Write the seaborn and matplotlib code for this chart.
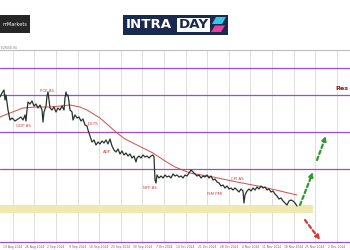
import matplotlib
matplotlib.use("Agg")
import matplotlib.pyplot as plt
import matplotlib.patches as mpatches
import seaborn as sns
import pandas as pd

# ---------------- data ----------------
bars = [0, 2, 4, 5, 6, 8, 10, 12, 15, 18, 21, 23, 25, 26, 27, 28, 30, 32, 34, 36, 38, 40,
        42, 43, 44, 46, 47, 48, 49, 50, 52, 54, 56, 58, 60, 62, 64, 65, 66, 67, 68, 69, 70,
        72, 73, 75, 77, 79, 81, 83, 85, 87, 88, 90, 92, 94, 96, 98, 100, 102, 104, 106, 108,
        110, 112, 114, 116, 118, 120, 122, 124, 126, 128, 130, 132, 134, 136, 137, 139, 141,
        143, 145, 147, 149, 151, 153, 154, 155, 156, 157, 159, 161, 163, 165, 167, 169, 171,
        173, 175, 177, 179, 181, 183, 185, 187, 189, 191, 193, 195, 197, 199, 201, 203, 205,
        207, 209, 211, 213, 215, 217, 219, 221, 223, 225, 227, 229, 231, 233, 235, 237, 239,
        241, 243, 244, 245, 247, 249, 251, 253, 255, 257, 259, 261, 263, 265, 267, 269, 271,
        273, 275, 277, 279, 281, 283, 285, 287, 289, 291, 293, 295, 297]
price = [203, 207, 210, 200, 205, 190, 180, 182, 179, 181, 183, 180, 185, 179, 190, 198, 196,
         199, 194, 196, 192, 195, 190, 178, 188, 194, 204, 208, 200, 192, 190, 193, 188, 192,
         190, 194, 190, 202, 208, 204, 205, 198, 190, 188, 180, 185, 182, 183, 179, 181, 175,
         174, 170, 164, 158, 160, 155, 158, 156, 159, 157, 160, 156, 161, 154, 150, 148, 151,
         146, 149, 145, 147, 144, 146, 142, 144, 138, 142, 144, 142, 145, 143, 144, 142, 144,
         145, 143, 120, 117, 125, 122, 124, 122, 125, 123, 124, 122, 126, 124, 125, 123, 124,
         122, 125, 124, 127, 130, 128, 126, 124, 125, 122, 124, 123, 125, 122, 124, 120, 121,
         118, 117, 114, 115, 112, 114, 111, 112, 110, 112, 110, 108, 111, 109, 97, 105, 109,
         111, 109, 112, 110, 113, 111, 114, 112, 113, 110, 111, 108, 109, 106, 104, 101, 102,
         99, 97, 95, 99, 100, 99, 97, 94]

ma_bars = [0, 10, 23, 35, 50, 60, 70, 80, 87, 95, 100, 108, 117, 125, 133, 143, 153, 165,
           175, 190, 213, 237, 263, 280, 297]
ma = [183, 187, 192, 193, 193, 194, 195, 193, 190, 185, 182, 175, 167, 161, 157, 152, 147,
      139, 133, 127, 123, 118, 113, 109, 105]

levels = [232, 205.5, 168.5, 131, 58]
zone_low, zone_high = 87, 95
zone_end = 313

event_labels = ["GDP AS", "PCE AS", "JOLTS", "ADP", "NFP AS", "ISM PMI", "CPI AS"]
event_bars = [23, 47, 93, 107, 150, 215, 237]
event_prices = [174, 209, 176, 148, 112, 106, 121]

date_labels = ["19 Aug 2024", "26 Aug 2024", "2 Sep 2024", "9 Sep 2024", "16 Sep 2024",
               "23 Sep 2024", "30 Sep 2024", "7 Oct 2024", "14 Oct 2024", "21 Oct 2024",
               "28 Oct 2024", "4 Nov 2024", "11 Nov 2024", "18 Nov 2024", "25 Nov 2024",
               "2 Dec 2024"]
date_ticks = [12.7, 34.3, 55.9, 77.5, 99.1, 120.7, 142.3, 163.9, 185.5, 207.1, 228.7,
              250.3, 271.9, 293.5, 315.1, 336.7]

bull_arrows = [((300, 95), (313, 128)), ((317, 140), (326, 164))]
bear_arrow = ((305, 80), (320, 60))

# ---------------- figure ----------------
sns.set_style("white")
W, H = 350, 250
fig = plt.figure(figsize=(3.5, 2.5), dpi=100)
fig.patch.set_facecolor("white")

ax = fig.add_axes([0, 6 / H, 1, 194 / H])
ax.set_xlim(0, 350)
ax.set_ylim(56, 250)

# grid
ax.set_xticks(date_ticks)
ax.set_xticklabels(date_labels, fontsize=2.2, color="#666666")
ax.tick_params(axis="x", length=0, pad=0.6)
ax.set_yticks([])
ax.grid(axis="x", color="#d9d9d9", linewidth=0.6)
ax.set_axisbelow(True)
for s in ["left", "right", "bottom"]:
    ax.spines[s].set_visible(False)
ax.spines["top"].set_color("#bdbdbd")
ax.spines["top"].set_linewidth(0.8)

# support zone
ax.fill_between([0, zone_end], zone_low, zone_high, color="#efe9b0", zorder=1, lw=0)

# horizontal levels
for lv in levels:
    ax.axhline(lv, color="#a54cc4", linewidth=0.9, zorder=2)

# price + moving average
df = pd.DataFrame({"bar": bars, "price": price})
dma = pd.DataFrame({"bar": ma_bars, "ma": ma})
sns.lineplot(data=dma, x="bar", y="ma", ax=ax, color="#d24b4b", linewidth=0.7, zorder=3)
sns.lineplot(data=df, x="bar", y="price", ax=ax, color="#27352a", linewidth=0.9, zorder=4)
ax.set_xlabel("")
ax.set_ylabel("")

# event labels
for t, xb, yp in zip(event_labels, event_bars, event_prices):
    ax.text(xb, yp, t, fontsize=2.8, color="#d23c3c", ha="center", va="center", zorder=5)

# resistance label (cut by the right edge in the reference, only "Res" visible)
ax.text(335.5, 211, "Res", fontsize=4.6, color="#8b1a1a", fontweight="bold",
        ha="left", va="center")

# arrows
for (a, b) in bull_arrows:
    ax.annotate("", xy=b, xytext=a,
                arrowprops=dict(arrowstyle="-|>", color="#2e9a2e", lw=1.6,
                                linestyle=(0, (1.6, 1.3)), mutation_scale=6,
                                shrinkA=0, shrinkB=0))
ax.annotate("", xy=bear_arrow[1], xytext=bear_arrow[0],
            arrowprops=dict(arrowstyle="-|>", color="#d83a2e", lw=1.6,
                            linestyle=(0, (1.6, 1.3)), mutation_scale=6,
                            shrinkA=0, shrinkB=0))

# tiny symbol label at top-left
fig.text(1 / W, 1 - 48 / H, "EURUSD, H4", fontsize=1.8, color="#666666",
         ha="left", va="center")


# ---------------- logos ----------------
def fx(x):
    return x / W


def fy(y):
    return 1 - y / H


def rect(x0, y0, x1, y1, color):
    fig.add_artist(mpatches.Rectangle((fx(x0), fy(y1)), fx(x1) - fx(x0), fy(y0) - fy(y1),
                                      transform=fig.transFigure, color=color, lw=0))


def poly(pts, color):
    fig.add_artist(mpatches.Polygon([(fx(x), fy(y)) for x, y in pts], closed=True,
                                    transform=fig.transFigure, color=color, lw=0))


# left broker logo
rect(0, 15, 30, 33, "#262626")
fig.text(fx(15), fy(24.5), "mMarkets", fontsize=3.6, color="white", ha="center", va="center")

# INTRADAY logo
rect(123, 14.5, 228, 34.5, "#1a2a4f")
rect(177, 17.5, 210, 31.5, "white")
fig.text(fx(126), fy(25), "INTRA", fontsize=9.6, color="white", fontweight="bold",
         ha="left", va="center", family="DejaVu Sans")
fig.text(fx(193.5), fy(25), "DAY", fontsize=9.6, color="#1a2a4f", fontweight="bold",
         ha="center", va="center", family="DejaVu Sans")
poly([(212, 24), (216, 17), (226, 17), (222, 24)], "#36c6ea")
poly([(211, 32), (215, 25.5), (225, 25.5), (221, 32)], "#e8409f")

fig.savefig("out.png", dpi=100, facecolor="white")
